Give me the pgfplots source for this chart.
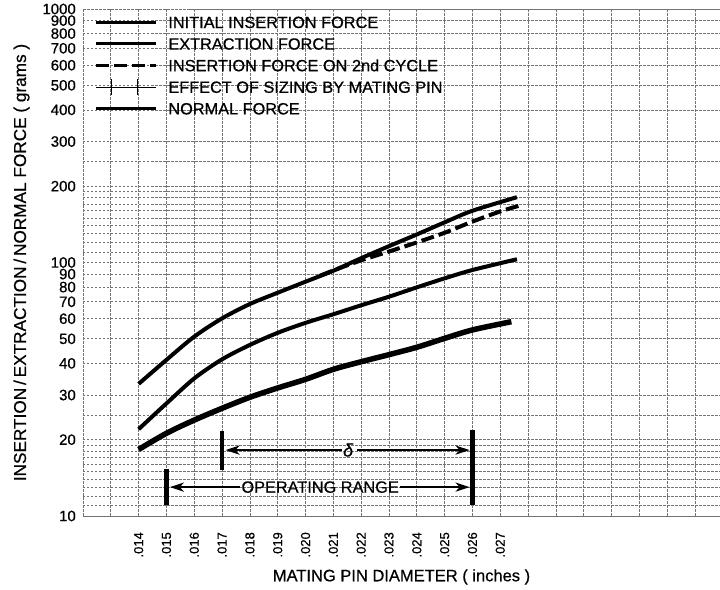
\documentclass[border=0pt]{standalone}
\usepackage{fontspec}
\setmainfont{Liberation Sans}[FakeBold=0.6]
\usepackage{pgfplots}
\pgfplotsset{compat=1.18}
\usetikzlibrary{arrows.meta}

% dashed log-paper rulings
\tikzset{paper/.style={black!55, line width=0.7pt, dash pattern=on 2.5pt off 1.5pt}}
\tikzset{range arrow/.style={line width=2.7pt, -{Stealth[length=14pt,width=9pt,inset=4pt]}}}

\begin{document}
\begin{tikzpicture}
\begin{axis}[
    scale only axis,
    width=637pt, height=507pt,
    xmin=0.012, xmax=0.0349,
    ymode=log, ymin=10, ymax=1000,
    scaled x ticks=false,
    xtick={0.014,0.015,0.016,0.017,0.018,0.019,0.020,0.021,0.022,0.023,0.024,0.025,0.026,0.027},
    xticklabels={.014,.015,.016,.017,.018,.019,.020,.021,.022,.023,.024,.025,.026,.027},
    minor xtick={0.012,0.013,0.028,0.029,0.030,0.031,0.032,0.033,0.034},
    ytick={10,20,30,40,50,60,70,80,90,100,200,300,400,500,600,700,800,900,1000},
    yticklabels={10,20,30,40,50,60,70,80,90,100,200,300,400,500,600,700,800,900,1000},
    minor ytick={11,12,13,14,15,16,17,18,19,25,110,120,130,140,150,160,170,180,190,250},
    grid=both,
    grid style={paper},
    minor grid style={paper},
    axis line style={paper},
    major tick length=0pt, minor tick length=0pt,
    xticklabel style={font=\fontsize{13}{13}\selectfont, inner sep=0pt, yshift=-16pt, rotate=90, anchor=east},
    yticklabel style={font=\fontsize{15}{15}\selectfont, inner sep=0pt, xshift=-7pt},
    xlabel={MATING PIN DIAMETER ( inches )},
    xlabel style={font=\fontsize{16.5}{18}\selectfont, at={(axis description cs:0.5,-0.1203)}, anchor=center},
    ylabel={INSERTION\,/\,EXTRACTION\,/\,NORMAL FORCE ( grams )},
    ylabel style={font=\fontsize{17.2}{19}\selectfont, at={(axis description cs:-0.0965,0.5)}, anchor=center},
    legend cell align=left,
    legend image code/.code={\draw[#1,line width=3.2pt] (0pt,0pt) -- (60pt,0pt);},
    legend style={at={(axis description cs:0.0173,0.9859)}, anchor=north west,
        draw=none, fill=none, inner sep=0pt, row sep=9.9pt, column sep=11pt,
        font=\fontsize{16.3}{19}\selectfont,
        nodes={inner sep=0pt, text height=11.7pt, text depth=0pt}},
]

% initial insertion force
\addplot[black, line width=4pt, smooth] coordinates {
    (0.014,33.2) (0.015,41.3) (0.016,51.0) (0.017,60.2) (0.018,68.6) (0.019,76.0)
    (0.020,84.0) (0.021,92.8) (0.022,104) (0.023,116) (0.024,129) (0.025,144)
    (0.026,160) (0.0276,181)};
\addlegendentry{INITIAL INSERTION FORCE}

% extraction force
\addplot[black, line width=5.5pt, smooth] coordinates {
    (0.014,18.3) (0.015,21.2) (0.016,23.9) (0.017,26.6) (0.018,29.4) (0.019,32.0)
    (0.020,34.6) (0.021,37.9) (0.022,40.6) (0.023,43.3) (0.024,46.3) (0.025,50.2)
    (0.026,54.2) (0.0274,58.4)};
\addlegendentry{EXTRACTION FORCE}

% insertion force on 2nd cycle
\addplot[black, line width=4pt, dash pattern=on 13pt off 5pt, smooth] coordinates {
    (0.0205,88.5) (0.021,93) (0.022,102) (0.023,110.5) (0.024,120) (0.025,131)
    (0.026,145) (0.027,159) (0.0278,169)};
\addlegendentry{INSERTION FORCE ON 2nd CYCLE}

\addlegendimage{legend image code/.code={
    \draw[line width=0.8pt] (0pt,0pt) -- (60pt,0pt);
    \draw[overlay,line width=0.8pt] (16pt,-8pt) -- (16pt,8pt) (42pt,-8pt) -- (42pt,8pt);}}
\addlegendentry{EFFECT OF SIZING BY MATING PIN}

% normal force
\addplot[black, line width=4pt, smooth] coordinates {
    (0.014,22.0) (0.015,27.8) (0.016,34.9) (0.017,41.5) (0.018,47.3) (0.019,52.8)
    (0.020,57.8) (0.021,62.5) (0.022,67.8) (0.023,73.3) (0.024,79.8) (0.025,86.6)
    (0.026,93.4) (0.0276,103)};
\addlegendentry{NORMAL FORCE}

% delta and operating range markers
\draw[line width=4.5pt] (axis cs:0.017,15.2) -- (axis cs:0.017,21.6);
\draw[line width=4.5pt] (axis cs:0.015,11.05) -- (axis cs:0.015,15.3);
\draw[line width=4.5pt] (axis cs:0.026,11.05) -- (axis cs:0.026,21.8);
\draw[range arrow] (axis cs:0.0213,18.2) -- (axis cs:0.01712,18.2);
\draw[range arrow] (axis cs:0.02185,18.2) -- (axis cs:0.02590,18.2);
\node at (axis cs:0.02153,18.2) {\fontsize{18}{18}\selectfont\itshape δ};
\draw[range arrow] (axis cs:0.01765,13.0) -- (axis cs:0.01512,13.0);
\draw[range arrow] (axis cs:0.02340,13.0) -- (axis cs:0.02590,13.0);
\node at (axis cs:0.020525,13.0) {\fontsize{16.3}{18}\selectfont OPERATING RANGE};

\end{axis}
\pgfresetboundingbox
\path[use as bounding box] ([xshift=-83pt,yshift=-73pt]current axis.south west)
    rectangle ([yshift=9pt]current axis.north east);
\end{tikzpicture}
\end{document}
